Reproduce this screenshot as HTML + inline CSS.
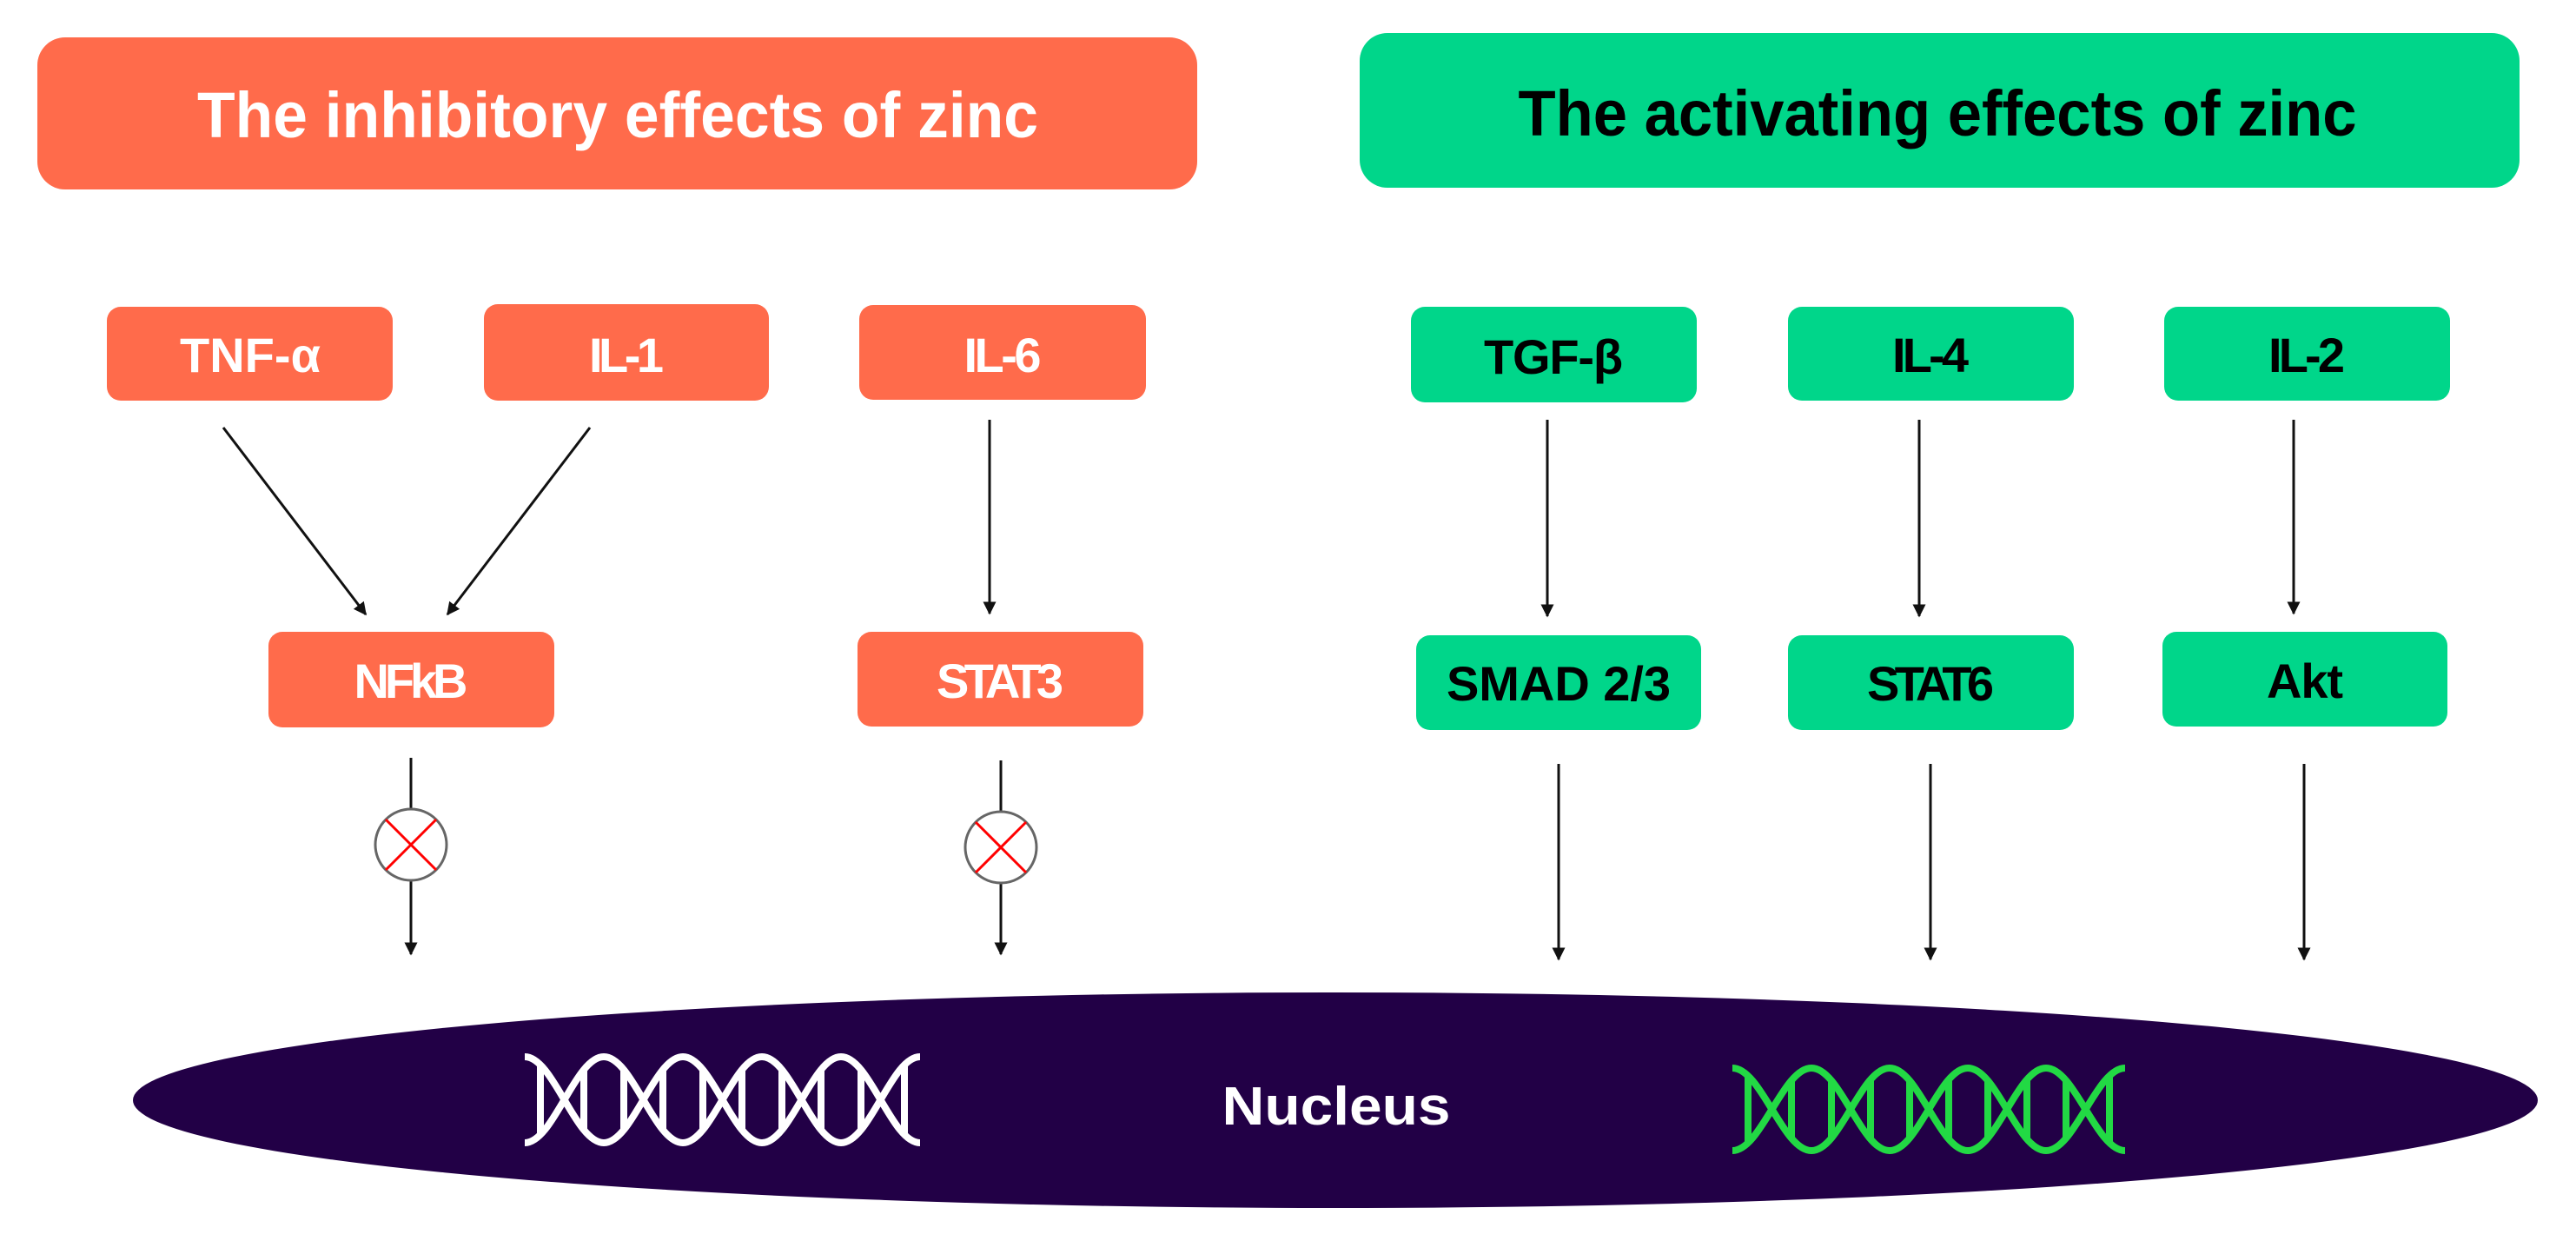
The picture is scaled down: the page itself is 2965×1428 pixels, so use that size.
<!DOCTYPE html>
<html><head><meta charset="utf-8"><style>html,body{margin:0;padding:0;background:#fff}svg{display:block}</style></head>
<body>
<svg width="2965" height="1428" viewBox="0 0 2965 1428" xmlns="http://www.w3.org/2000/svg" font-family="Liberation Sans, sans-serif" font-weight="bold">
<defs>
<marker id="ah" viewBox="0 0 10 10" refX="9" refY="5" markerWidth="5" markerHeight="5" orient="auto" markerUnits="strokeWidth">
<path d="M0,0 L10,5 L0,10 z" fill="#111"/></marker>
</defs>
<!-- titles -->
<rect x="43" y="43" width="1335" height="175" rx="32" fill="#FF6B4B"/>
<text x="711" y="158" font-size="74" fill="#fff" text-anchor="middle" textLength="968" lengthAdjust="spacingAndGlyphs">The inhibitory effects of zinc</text>
<rect x="1565" y="38" width="1335" height="178" rx="32" fill="#00D68A"/>
<text x="2230" y="156" font-size="74" fill="#000" text-anchor="middle" textLength="965" lengthAdjust="spacingAndGlyphs">The activating effects of zinc</text>

<g font-size="56" text-anchor="middle" lengthAdjust="spacingAndGlyphs">
<!-- orange boxes -->
<rect x="123" y="353" width="329" height="108" rx="16" fill="#FF6B4B"/>
<text x="288" y="428" fill="#fff" textLength="162">TNF-α</text>
<rect x="557" y="350" width="328" height="111" rx="16" fill="#FF6B4B"/>
<text x="721" y="428" fill="#fff" textLength="86">IL-1</text>
<rect x="989" y="351" width="330" height="109" rx="16" fill="#FF6B4B"/>
<text x="1154" y="428" fill="#fff" textLength="89">IL-6</text>
<rect x="309" y="727" width="329" height="110" rx="16" fill="#FF6B4B"/>
<text x="473" y="803" fill="#fff" textLength="131">NFkB</text>
<rect x="987" y="727" width="329" height="109" rx="16" fill="#FF6B4B"/>
<text x="1151" y="803" fill="#fff" textLength="146">STAT3</text>
<!-- green boxes -->
<rect x="1624" y="353" width="329" height="110" rx="16" fill="#00D68A"/>
<text x="1788" y="430" fill="#000" textLength="160">TGF-β</text>
<rect x="2058" y="353" width="329" height="108" rx="16" fill="#00D68A"/>
<text x="2222" y="428" fill="#000" textLength="88">IL-4</text>
<rect x="2491" y="353" width="329" height="108" rx="16" fill="#00D68A"/>
<text x="2655" y="428" fill="#000" textLength="88">IL-2</text>
<rect x="1630" y="731" width="328" height="109" rx="16" fill="#00D68A"/>
<text x="1794" y="806" fill="#000" textLength="258">SMAD 2/3</text>
<rect x="2058" y="731" width="329" height="109" rx="16" fill="#00D68A"/>
<text x="2222" y="806" fill="#000" textLength="146">STAT6</text>
<rect x="2489" y="727" width="328" height="109" rx="16" fill="#00D68A"/>
<text x="2653" y="803" fill="#000" textLength="88">Akt</text>
</g>

<!-- arrows -->
<g stroke="#111" stroke-width="3" fill="none" marker-end="url(#ah)">
<line x1="257" y1="492" x2="421" y2="707"/>
<line x1="679" y1="492" x2="515" y2="707"/>
<line x1="1139" y1="483" x2="1139" y2="706"/>
<line x1="473" y1="1013" x2="473" y2="1098"/>
<line x1="1152" y1="1016" x2="1152" y2="1098"/>
<line x1="1781" y1="483" x2="1781" y2="709"/>
<line x1="2209" y1="483" x2="2209" y2="709"/>
<line x1="2640" y1="483" x2="2640" y2="706"/>
<line x1="1794" y1="879" x2="1794" y2="1104"/>
<line x1="2222" y1="879" x2="2222" y2="1104"/>
<line x1="2652" y1="879" x2="2652" y2="1104"/>
</g>
<g stroke="#111" stroke-width="3">
<line x1="473" y1="872" x2="473" y2="931"/>
<line x1="1152" y1="875" x2="1152" y2="934"/>
</g>
<!-- inhibition circles -->
<g>
<circle cx="473" cy="972" r="41" fill="#fff" stroke="#666" stroke-width="3"/>
<line x1="444" y1="943" x2="502" y2="1001" stroke="#f00" stroke-width="3"/>
<line x1="502" y1="943" x2="444" y2="1001" stroke="#f00" stroke-width="3"/>
<circle cx="1152" cy="975" r="41" fill="#fff" stroke="#666" stroke-width="3"/>
<line x1="1123" y1="946" x2="1181" y2="1004" stroke="#f00" stroke-width="3"/>
<line x1="1181" y1="946" x2="1123" y2="1004" stroke="#f00" stroke-width="3"/>
</g>

<!-- nucleus -->
<ellipse cx="1537" cy="1266" rx="1384" ry="124" fill="#220046"/>
<text x="1538" y="1294" font-size="62" fill="#fff" text-anchor="middle" textLength="263" lengthAdjust="spacingAndGlyphs">Nucleus</text>

<!-- white DNA -->
<g stroke="#fff" stroke-width="8" fill="none">
<path d="M604,1216 C637,1216 662,1315 695,1315 S753,1216 786,1216 S844,1315 877,1315 S935,1216 968,1216 S1026,1315 1059,1315"/>
<path d="M604,1315 C637,1315 662,1216 695,1216 S753,1315 786,1315 S844,1216 877,1216 S935,1315 968,1315 S1026,1216 1059,1216"/>
<line x1="622" y1="1224" x2="622" y2="1307"/>
<line x1="672" y1="1230" x2="672" y2="1301"/>
<line x1="718" y1="1230" x2="718" y2="1301"/>
<line x1="763" y1="1230" x2="763" y2="1301"/>
<line x1="809" y1="1230" x2="809" y2="1301"/>
<line x1="854" y1="1230" x2="854" y2="1301"/>
<line x1="900" y1="1230" x2="900" y2="1301"/>
<line x1="945" y1="1230" x2="945" y2="1301"/>
<line x1="991" y1="1230" x2="991" y2="1301"/>
<line x1="1041" y1="1224" x2="1041" y2="1307"/>
</g>
<!-- green DNA -->
<g stroke="#22D944" stroke-width="8" fill="none">
<path d="M1994,1229 C2027,1229 2052,1324 2085,1324 S2142,1229 2175,1229 S2232,1324 2265,1324 S2322,1229 2355,1229 S2413,1324 2446,1324"/>
<path d="M1994,1324 C2027,1324 2052,1229 2085,1229 S2142,1324 2175,1324 S2232,1229 2265,1229 S2322,1324 2355,1324 S2413,1229 2446,1229"/>
<line x1="2012" y1="1237" x2="2012" y2="1316"/>
<line x1="2062" y1="1243" x2="2062" y2="1310"/>
<line x1="2108" y1="1243" x2="2108" y2="1310"/>
<line x1="2153" y1="1243" x2="2153" y2="1310"/>
<line x1="2198" y1="1243" x2="2198" y2="1310"/>
<line x1="2243" y1="1243" x2="2243" y2="1310"/>
<line x1="2288" y1="1243" x2="2288" y2="1310"/>
<line x1="2333" y1="1243" x2="2333" y2="1310"/>
<line x1="2378" y1="1243" x2="2378" y2="1310"/>
<line x1="2428" y1="1237" x2="2428" y2="1316"/>
</g>
</svg>
</body></html>
